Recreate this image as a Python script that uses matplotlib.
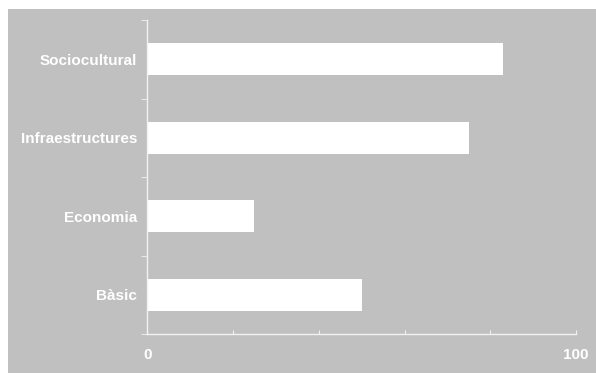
import matplotlib
matplotlib.use("Agg")
import matplotlib.pyplot as plt
from matplotlib.patches import Rectangle

categories = ["Bàsic", "Economia", "Infraestructures", "Sociocultural"]
values = [50, 25, 75, 83]
xticks = [0, 20, 40, 60, 80, 100]
xticklabels = ["0", "", "", "", "", "100"]

grey = "#C0C0C0"
W, H = 596, 373

fig = plt.figure(figsize=(W / 100, H / 100), dpi=100)
fig.patch.set_facecolor("white")
fig.patches.append(Rectangle((8 / W, 0), 1, (H - 9) / H, transform=fig.transFigure,
                             facecolor=grey, edgecolor="none", zorder=-5))

ax = fig.add_axes([147.3 / W, (H - 334) / H, (576 - 147.3) / W, (334 - 20) / H])
ax.set_facecolor("none")
ax.set_zorder(2)

ypos = range(len(categories))
ax.barh(ypos, values, height=0.405, color="white", edgecolor="none")

ax.set_xlim(0, 100)
ax.set_ylim(-0.5, len(categories) - 0.5)

for s in ["top", "right"]:
    ax.spines[s].set_visible(False)
for s in ["left", "bottom"]:
    ax.spines[s].set_color("#F2F2F2")
    ax.spines[s].set_linewidth(1)

ax.set_xticks(xticks)
ax.set_xticklabels(xticklabels)
ax.tick_params(axis="x", direction="in", length=3, color="#F2F2F2", pad=10,
               labelsize=11, labelcolor="white")
for t in ax.get_xticklabels():
    t.set_fontweight("bold")
    t.set_family("Liberation Sans")

ax.set_yticks(list(ypos))
ax.set_yticklabels(categories)
ax.set_yticks([i - 0.5 for i in range(len(categories) + 1)], minor=True)
ax.tick_params(axis="y", which="major", length=0, pad=7.2, labelsize=11, labelcolor="white")
ax.tick_params(axis="y", which="minor", direction="out", length=4, color="#F2F2F2")
for t in ax.get_yticklabels():
    t.set_fontweight("bold")
    t.set_family("Liberation Sans")

fig.savefig("out.png", dpi=100)
